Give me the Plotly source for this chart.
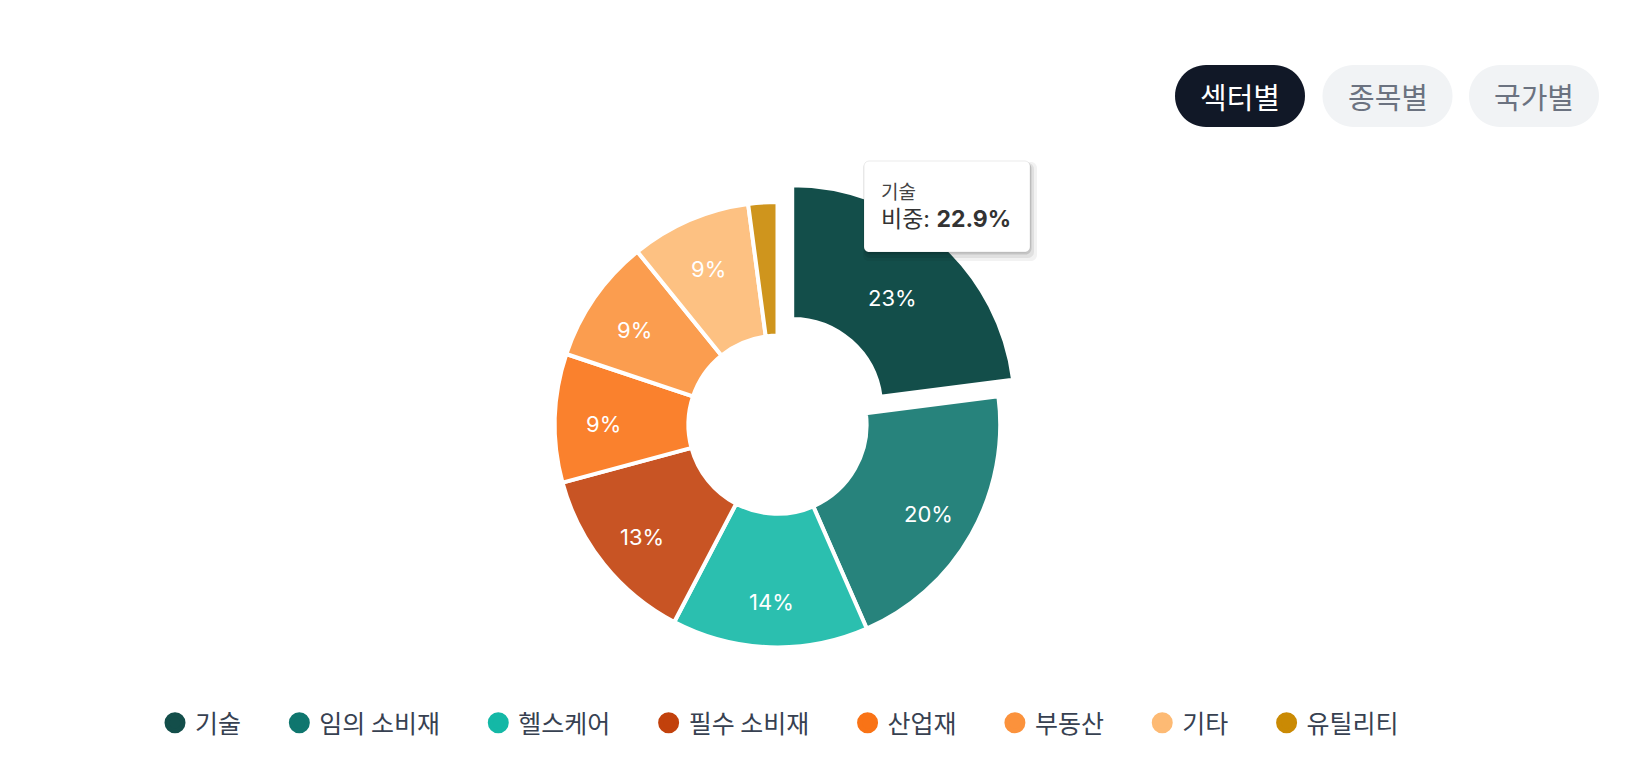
import math
import plotly.graph_objects as go

# ---------------- data ----------------
categories = ["기술", "임의 소비재", "헬스케어", "필수 소비재", "산업재", "부동산", "기타", "유틸리티"]
weights = [22.9, 20.4, 14.2, 13.1, 9.3, 9.0, 8.7, 2.1]
colors = ["#134e4a", "#0f766e", "#14b8a6", "#c2410c", "#f97316", "#fb923c", "#fdba74", "#ca8a04"]
buttons = ["섹터별", "종목별", "국가별"]
active_button = "섹터별"
highlight = "기술"

FONT = "Inter, 'Noto Sans CJK KR', sans-serif"
KFONT = "'Noto Sans CJK KR', Inter, sans-serif"
OFF = 8                      # page body margin
W, H = 1632 - OFF, 779 - OFF  # figure size


def px(X):
    """page x (px) -> paper x"""
    return (X - OFF) / W


def py(Y):
    """page y (px, from top) -> paper y"""
    return 1 - (Y - OFF) / H


def rgba(hex_color, a):
    h = hex_color.lstrip("#")
    r, g, b = int(h[0:2], 16), int(h[2:4], 16), int(h[4:6], 16)
    return f"rgba({r},{g},{b},{a})"


total = sum(weights)
slice_colors = [c if cat == highlight else rgba(c, 0.9) for cat, c in zip(categories, colors)]
pulls = [0.1 if cat == highlight else 0 for cat in categories]
texts = [f"{round(v / total * 100)}%" if v / total >= 0.05 else "" for v in weights]

# pie geometry (page px)
pie_cx, pie_cy, pie_r = 777.5, 424.7, 222.7
half = pie_r * (1 + max(pulls))
label_r = 0.78 * pie_r
label_dy = 4

fig = go.Figure()
fig.add_trace(go.Pie(
    labels=categories,
    values=weights,
    sort=False,
    direction="clockwise",
    rotation=0,
    hole=0.4,
    pull=pulls,
    marker=dict(colors=slice_colors, line=dict(color="white", width=4)),
    textinfo="none",
    domain=dict(x=[px(pie_cx - half), px(pie_cx + half)],
                y=[py(pie_cy + half), py(pie_cy - half)]),
    showlegend=False,
    hoverinfo="label+percent",
))

# legend entries (circle markers)
pad = "\u2003\u2004"
for cat, c in zip(categories, colors):
    fig.add_trace(go.Scatter(
        x=[None], y=[None], mode="markers", name=cat + pad,
        marker=dict(symbol="circle", size=16, color=c, line=dict(color=c, width=6)),
        showlegend=True, hoverinfo="skip",
    ))

shapes = []
annotations = []

# percentage labels placed at each slice's mid-angle
cum = 0.0
for v, t in zip(weights, texts):
    mid = (cum + v / 2) / total * 2 * math.pi
    cum += v
    if not t:
        continue
    lx = pie_cx + label_r * math.sin(mid)
    ly = pie_cy - label_r * math.cos(mid) + label_dy
    annotations.append(dict(
        x=px(lx), y=py(ly), xref="paper", yref="paper", text=t, showarrow=False,
        xanchor="center", yanchor="middle",
        font=dict(family=FONT, size=22, color="white"),
    ))


def pill_path(w, h):
    r = h / 2
    a = w / 2 - r
    k = 0.5523 * r
    return (f"M {-a},{-r} L {a},{-r} "
            f"C {a + k},{-r} {a + r},{-k} {a + r},0 "
            f"C {a + r},{k} {a + k},{r} {a},{r} "
            f"L {-a},{r} "
            f"C {-a - k},{r} {-a - r},{k} {-a - r},0 "
            f"C {-a - r},{-k} {-a - k},{-r} {-a},{-r} Z")


def rrect_path(w, h, r):
    x0, x1, y0, y1 = -w / 2, w / 2, -h / 2, h / 2
    k = 0.5523 * r
    return (f"M {x0 + r},{y0} L {x1 - r},{y0} "
            f"C {x1 - r + k},{y0} {x1},{y0 + r - k} {x1},{y0 + r} "
            f"L {x1},{y1 - r} "
            f"C {x1},{y1 - r + k} {x1 - r + k},{y1} {x1 - r},{y1} "
            f"L {x0 + r},{y1} "
            f"C {x0 + r - k},{y1} {x0},{y1 - r + k} {x0},{y1 - r} "
            f"L {x0},{y0 + r} "
            f"C {x0},{y0 + r - k} {x0 + r - k},{y0} {x0 + r},{y0} Z")


# toggle buttons (top right)
btn_w, btn_h = 130, 62
btn_centers_x = [1240, 1387.5, 1534]
btn_cy = 96
for label, cx in zip(buttons, btn_centers_x):
    active = label == active_button
    shapes.append(dict(
        type="path", xref="paper", yref="paper",
        xsizemode="pixel", ysizemode="pixel",
        xanchor=px(cx), yanchor=py(btn_cy),
        path=pill_path(btn_w, btn_h),
        fillcolor="#111827" if active else "#f1f3f5",
        line=dict(width=0), layer="above",
    ))
    annotations.append(dict(
        x=px(cx), y=py(btn_cy), xref="paper", yref="paper",
        text=label, showarrow=False, xanchor="center", yanchor="middle",
        font=dict(family=KFONT, size=29, color="white" if active else "#6b7280"),
    ))

# tooltip box
tip_cx, tip_cy, tip_w, tip_h = 947, 206.5, 166, 91
for dx, dy, alpha, grow in [(3, 5, 0.05, 8), (2, 4, 0.07, 4), (1, 2, 0.12, 1)]:
    shapes.append(dict(
        type="path", xref="paper", yref="paper",
        xsizemode="pixel", ysizemode="pixel",
        xanchor=px(tip_cx + dx), yanchor=py(tip_cy + dy),
        path=rrect_path(tip_w + grow, tip_h + grow, 6),
        fillcolor=f"rgba(0,0,0,{alpha})", line=dict(width=0), layer="above",
    ))
shapes.append(dict(
    type="path", xref="paper", yref="paper",
    xsizemode="pixel", ysizemode="pixel",
    xanchor=px(tip_cx), yanchor=py(tip_cy),
    path=rrect_path(tip_w, tip_h, 5),
    fillcolor="white", line=dict(color="rgba(0,0,0,0.08)", width=1), layer="above",
))
hi = categories.index(highlight)
annotations.append(dict(
    x=px(879), y=py(190), xref="paper", yref="paper",
    text=categories[hi], showarrow=False, xanchor="left", yanchor="middle",
    font=dict(family=KFONT, size=19, color="#444444"),
))
annotations.append(dict(
    x=px(879), y=py(219), xref="paper", yref="paper",
    text=f"비중: <b>{weights[hi]:.1f}%</b>", showarrow=False, xanchor="left", yanchor="middle",
    font=dict(family=FONT, size=23, color="#333333"),
))

fig.update_layout(
    width=W, height=H,
    margin=dict(l=0, r=0, t=0, b=0),
    paper_bgcolor="white", plot_bgcolor="white",
    xaxis=dict(visible=False, range=[0, 1], fixedrange=True),
    yaxis=dict(visible=False, range=[0, 1], fixedrange=True),
    legend=dict(
        orientation="h", x=px(796), xanchor="center", y=py(723), yanchor="middle",
        font=dict(family=KFONT, size=25, color="#374151"),
        itemclick=False, itemdoubleclick=False,
        bgcolor="rgba(0,0,0,0)",
    ),
    shapes=shapes,
    annotations=annotations,
    font=dict(family=FONT),
    hovermode=False,
)

fig.write_html("out.html", config={"displayModeBar": False})
